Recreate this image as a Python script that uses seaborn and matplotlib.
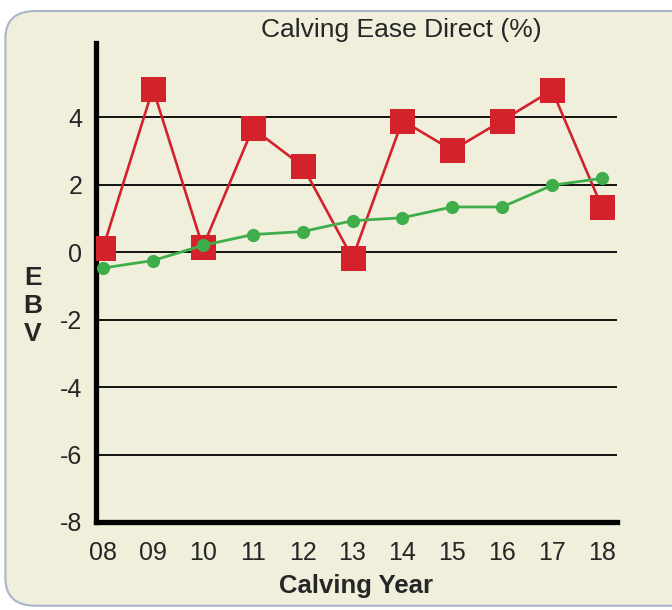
import pandas as pd
import matplotlib.pyplot as plt
import seaborn as sns
from matplotlib.patches import FancyBboxPatch

years = ['08', '09', '10', '11', '12', '13', '14', '15', '16', '17', '18']
sire_ebv = [0.12, 4.85, 0.15, 3.67, 2.55, -0.18, 3.9, 3.02, 3.9, 4.8, 1.33]
breed_avg = [-0.47, -0.25, 0.2, 0.52, 0.61, 0.93, 1.02, 1.34, 1.34, 1.98, 2.19]

df = pd.DataFrame({'pos': range(len(years)), 'year': years,
                   'sire': sire_ebv, 'breed': breed_avg})

sns.set_style('white')
plt.rcParams['font.family'] = ['Liberation Sans', 'DejaVu Sans']
plt.rcParams['axes.unicode_minus'] = False

bg = '#f0efdc'
red = '#d3222b'
green = '#3fae4a'

fig = plt.figure(figsize=(6.72, 6.10), dpi=100)
fig.patch.set_facecolor('white')
panel = FancyBboxPatch((0.008, 0.007), 1.05, 0.975,
                       boxstyle='round,pad=0,rounding_size=0.045',
                       transform=fig.transFigure, facecolor=bg,
                       edgecolor='#a8b6c6', linewidth=1.5, zorder=-5)
fig.patches.append(panel)

ax = fig.add_axes([0.1429, 0.1443, 0.7752, 0.7852])
ax.set_facecolor(bg)

sns.lineplot(data=df, x='pos', y='sire', ax=ax, color=red, linewidth=1.9,
             marker='s', markersize=18, markeredgewidth=0, zorder=3)
sns.lineplot(data=df, x='pos', y='breed', ax=ax, color=green, linewidth=2,
             marker='o', markersize=9.5, markeredgewidth=0, zorder=4)

ax.set_xlim(-0.14, 10.3)
ax.set_ylim(-8, 6.2)
ax.set_yticks([-8, -6, -4, -2, 0, 2, 4])
ax.set_xticks(df['pos'])
ax.set_xticklabels(years)
ax.yaxis.grid(True, color='black', linewidth=1.3)
ax.xaxis.grid(False)
ax.set_axisbelow(True)

for s in ['top', 'right']:
    ax.spines[s].set_visible(False)
for s in ['left', 'bottom']:
    ax.spines[s].set_color('black')
    ax.spines[s].set_linewidth(3.8)

ax.tick_params(axis='y', length=0, pad=10, labelsize=18)
ax.tick_params(axis='x', length=9.5, width=1.2, color='#333333',
               direction='out', pad=4, labelsize=18)

ax.set_xlabel('Calving Year', fontsize=18.5, fontweight='bold', labelpad=7)
ax.set_ylabel('E\nB\nV', fontsize=19, fontweight='bold', rotation=0,
              linespacing=1.2, va='center', ha='center')
ax.yaxis.set_label_coords(-0.121, 0.451)

fig.text(0.597, 0.950, 'Calving Ease Direct (%)', ha='center', va='center',
         fontsize=19)

plt.savefig('out.png', dpi=100, facecolor=fig.get_facecolor())
